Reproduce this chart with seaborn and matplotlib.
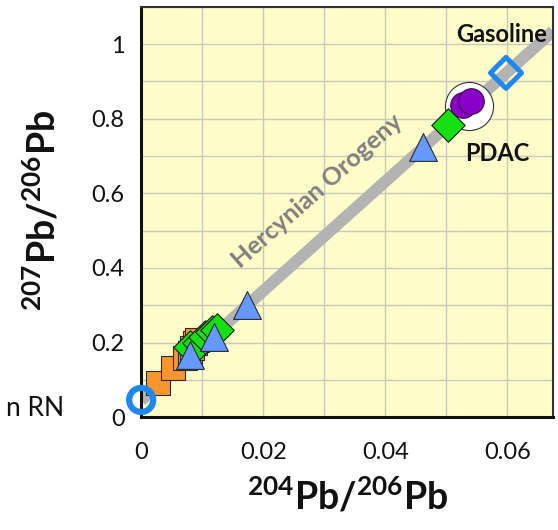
import matplotlib
matplotlib.use("Agg")
import matplotlib.pyplot as plt
import seaborn as sns
import numpy as np
import pandas as pd
from matplotlib.ticker import MultipleLocator, FuncFormatter

sns.set_theme(style="white")
plt.rcParams['font.family'] = ['Lato', 'DejaVu Sans']
plt.rcParams['mathtext.fontset'] = 'custom'
plt.rcParams['mathtext.rm'] = 'Lato'
plt.rcParams['mathtext.bf'] = 'Lato:bold'

# Hercynian orogeny trend
trend_x = [0.0, 0.0675]
trend_y = [0.045, 1.035]

# Orange squares
sq_x = [0.0028, 0.0052, 0.0072, 0.0080, 0.0084, 0.0088, 0.0092]
sq_y = [0.091, 0.131, 0.158, 0.172, 0.185, 0.198, 0.207]

# Green diamonds
dm_x = [0.0080, 0.0094, 0.0105, 0.0116, 0.0125, 0.0503]
dm_y = [0.188, 0.200, 0.215, 0.228, 0.234, 0.784]

# Blue triangles
tr_x = [0.0080, 0.0120, 0.0174, 0.0462]
tr_y = [0.166, 0.215, 0.300, 0.725]

# Purple circles (PDAC)
pc_x = [0.0528, 0.0540]
pc_y = [0.836, 0.848]
pdac_x = [0.0538]
pdac_y = [0.835]

# Gasoline
gas_x = [0.0598]
gas_y = [0.923]

# RN ring
rn_x = [0.0]
rn_y = [0.046]

fig = plt.figure(figsize=(5.58, 5.30), dpi=100)
ax = fig.add_axes([0.253, 0.213, 0.738, 0.774])
ax.set_facecolor('#fefdc9')

sns.lineplot(x=trend_x, y=trend_y, ax=ax, color='#b3b3b3', linewidth=8.5,
             solid_capstyle='butt', zorder=2)

sns.scatterplot(x=pdac_x, y=pdac_y, ax=ax, marker='o', s=1200, color='white',
                edgecolor='#333333', linewidth=0.8, zorder=3)
sns.scatterplot(x=pc_x, y=pc_y, ax=ax, marker='o', s=340, color='#8a00c8',
                edgecolor='#3a1050', linewidth=0.8, zorder=4)
sns.scatterplot(x=sq_x, y=sq_y, ax=ax, marker='s', s=300, color='#f7962f',
                edgecolor='#2b2b2b', linewidth=0.8, zorder=4)
sns.scatterplot(x=dm_x, y=dm_y, ax=ax, marker='D', s=290, color='#14e014',
                edgecolor='#1a1a1a', linewidth=0.8, zorder=5)
sns.scatterplot(x=tr_x, y=tr_y, ax=ax, marker='^', s=400, color='#6699ff',
                edgecolor='#2b2b2b', linewidth=0.8, zorder=6)
sns.scatterplot(x=gas_x, y=gas_y, ax=ax, marker='D', s=250, color='none',
                edgecolor='#1e88f0', linewidth=3.6, zorder=5)
ax.scatter(rn_x, rn_y, marker='o', s=300, facecolor='none',
           edgecolor='#1e88f0', linewidth=4.5, zorder=7, clip_on=False)

ax.set_xlim(0, 0.0675)
ax.set_ylim(0, 1.10)
ax.xaxis.set_major_locator(MultipleLocator(0.02))
ax.xaxis.set_minor_locator(MultipleLocator(0.01))
ax.yaxis.set_major_locator(MultipleLocator(0.2))
ax.yaxis.set_minor_locator(MultipleLocator(0.1))
fmt = FuncFormatter(lambda v, p: '0' if abs(v) < 1e-9 else '{:g}'.format(round(v, 4)))
ax.xaxis.set_major_formatter(fmt)
ax.yaxis.set_major_formatter(fmt)
ax.grid(True, which='both', color='#c9c8bd', linewidth=1.0)
ax.set_axisbelow(True)

ax.text(0.0590, 1.025, 'Gasoline', ha='center', va='center', fontsize=17,
        fontweight='bold', color='#111111')
ax.text(0.0584, 0.706, 'PDAC', ha='center', va='center', fontsize=17,
        fontweight='bold', color='#111111')
ax.text(0.0289, 0.606, 'Hercynian Orogeny', ha='center', va='center',
        fontsize=18, fontweight='bold', color='#808080', rotation=41.5,
        rotation_mode='anchor')
fig.text(64/558, 1 - 408/530, 'n RN', ha='right', va='center', fontsize=19,
         color='#111111')

ax.tick_params(axis='both', which='major', direction='in', length=7, width=1.8,
               labelsize=17, colors='#111111')
ax.tick_params(axis='x', which='major', pad=18)
ax.tick_params(axis='y', which='major', pad=12)
ax.tick_params(axis='both', which='minor', direction='in', length=4, width=1.5)

for side in ['left', 'bottom']:
    ax.spines[side].set_color('#111111')
    ax.spines[side].set_linewidth(2.2)
for side in ['top', 'right']:
    ax.spines[side].set_color('#333333')
    ax.spines[side].set_linewidth(1.5)

ax.set_xlabel(r'$\mathbf{^{204}Pb/^{206}Pb}$', fontsize=27,
              labelpad=10, color='#111111')
ax.set_ylabel(r'$\mathbf{^{207}Pb/^{206}Pb}$', fontsize=27,
              color='#111111')
ax.yaxis.set_label_coords(-0.19, 0.505)

fig.savefig('out.png', dpi=100)
